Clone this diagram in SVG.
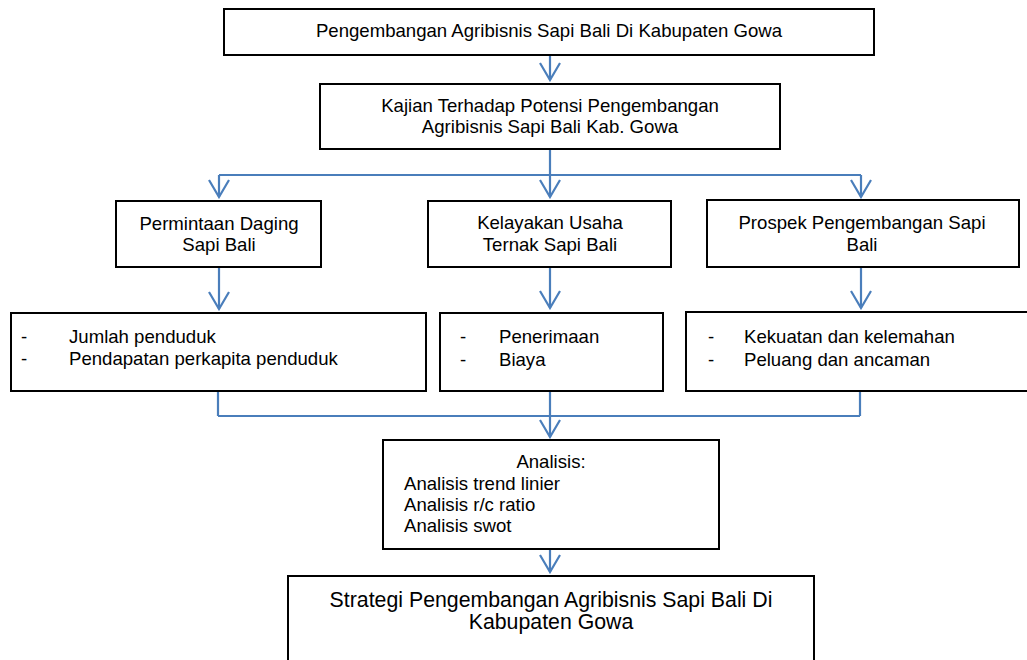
<svg xmlns="http://www.w3.org/2000/svg" width="1027" height="660" viewBox="0 0 1027 660">
<defs>
<marker id="arr" viewBox="0 0 20 24" refX="18" refY="12" markerWidth="20" markerHeight="24" markerUnits="userSpaceOnUse" orient="auto">
<path d="M1,2 L18,12 L1,22" fill="none" stroke="#4A7EBB" stroke-width="2.2"/>
</marker>
<style>
.box{fill:#fff;stroke:#000;stroke-width:2}
.t{font-family:"Liberation Sans",Arial,sans-serif;font-size:18.6px;fill:#000}
.c{text-anchor:middle}
.big{font-size:21.3px}
.conn{fill:none;stroke:#4A7EBB;stroke-width:2.2}
</style>
</defs>
<rect width="1027" height="660" fill="#fff"/>
<g id="connectors">
<path class="conn" d="M550,55 V80" marker-end="url(#arr)"/>
<path class="conn" d="M550,149 V175 M219,175 H861"/>
<path class="conn" d="M219,175 V197" marker-end="url(#arr)"/>
<path class="conn" d="M550,175 V197" marker-end="url(#arr)"/>
<path class="conn" d="M861,175 V197" marker-end="url(#arr)"/>
<path class="conn" d="M219,267 V309" marker-end="url(#arr)"/>
<path class="conn" d="M550,267 V308" marker-end="url(#arr)"/>
<path class="conn" d="M861,267 V308" marker-end="url(#arr)"/>
<path class="conn" d="M218,391 V416 M550,391 V416 M860,391 V416 M218,416 H860"/>
<path class="conn" d="M550,416 V437" marker-end="url(#arr)"/>
<path class="conn" d="M550,549 V572" marker-end="url(#arr)"/>
</g>
<g id="n1">
<rect class="box" x="224" y="9" width="650" height="46"/>
<text class="t c" x="549" y="37">Pengembangan Agribisnis Sapi Bali Di Kabupaten Gowa</text>
</g>
<g id="n2">
<rect class="box" x="320" y="84" width="460" height="65"/>
<text class="t c" x="550" y="112">Kajian Terhadap Potensi Pengembangan</text>
<text class="t c" x="550" y="133">Agribisnis Sapi Bali Kab. Gowa</text>
</g>
<g id="n3">
<rect class="box" x="116" y="201" width="205" height="66"/>
<text class="t c" x="219" y="230">Permintaan Daging</text>
<text class="t c" x="219" y="251">Sapi Bali</text>
</g>
<g id="n4">
<rect class="box" x="428" y="201" width="243" height="66"/>
<text class="t c" x="550" y="229">Kelayakan Usaha</text>
<text class="t c" x="550" y="251">Ternak Sapi Bali</text>
</g>
<g id="n5">
<rect class="box" x="707" y="200" width="312" height="67"/>
<text class="t c" x="862" y="229">Prospek Pengembangan Sapi</text>
<text class="t c" x="862" y="251">Bali</text>
</g>
<g id="n6">
<rect class="box" x="11" y="313" width="415" height="78"/>
<text class="t" x="21" y="343">-</text>
<text class="t" x="69" y="343">Jumlah penduduk</text>
<text class="t" x="21" y="365">-</text>
<text class="t" x="69" y="365">Pendapatan perkapita penduduk</text>
</g>
<g id="n7">
<rect class="box" x="440" y="313" width="223" height="78"/>
<text class="t" x="460" y="343">-</text>
<text class="t" x="499" y="343">Penerimaan</text>
<text class="t" x="460" y="366">-</text>
<text class="t" x="499" y="366">Biaya</text>
</g>
<g id="n8">
<rect class="box" x="686" y="312" width="345" height="79"/>
<text class="t" x="708" y="343">-</text>
<text class="t" x="744" y="343">Kekuatan dan kelemahan</text>
<text class="t" x="708" y="366">-</text>
<text class="t" x="744" y="366">Peluang dan ancaman</text>
</g>
<g id="n9">
<rect class="box" x="383" y="440" width="336" height="109"/>
<text class="t c" x="551" y="468">Analisis:</text>
<text class="t" x="404" y="490">Analisis trend linier</text>
<text class="t" x="404" y="511">Analisis r/c ratio</text>
<text class="t" x="404" y="532">Analisis swot</text>
</g>
<g id="n10">
<rect class="box" x="288" y="576" width="526" height="120"/>
<text class="t c big" x="551" y="607">Strategi Pengembangan Agribisnis Sapi Bali Di</text>
<text class="t c big" x="551" y="629">Kabupaten Gowa</text>
</g>
</svg>
